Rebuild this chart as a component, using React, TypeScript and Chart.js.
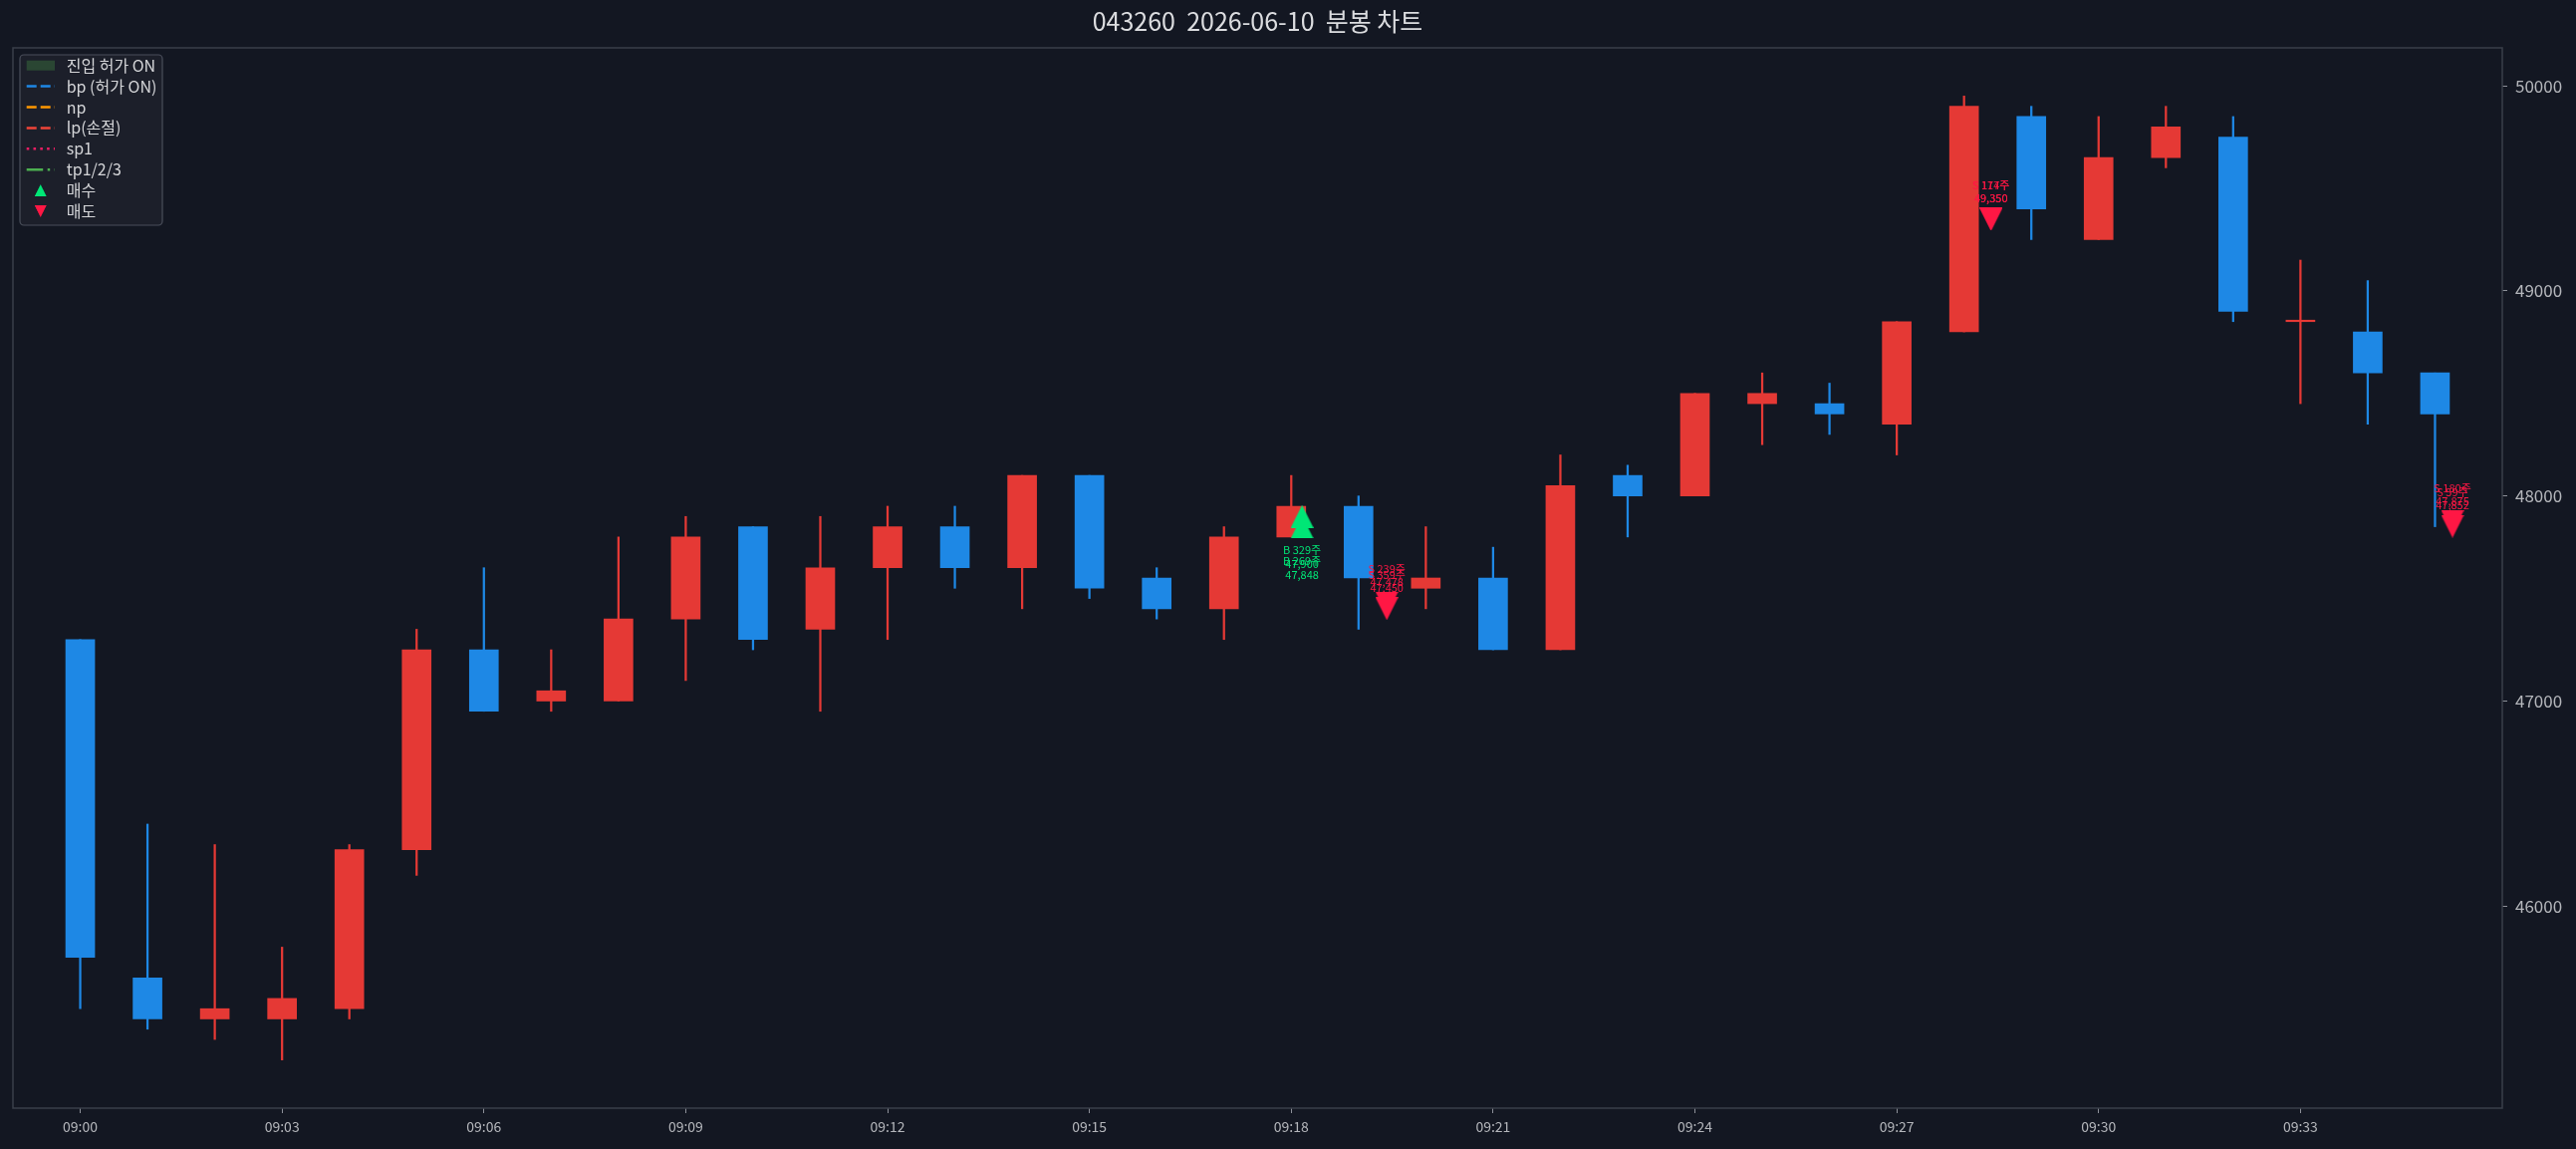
import React, { useEffect, useRef } from 'react';
import { Chart, registerables } from 'chart.js';

Chart.register(...registerables);

// ---------- data ----------
const TIMES = [
  '09:00', '09:01', '09:02', '09:03', '09:04', '09:05', '09:06', '09:07', '09:08', '09:09',
  '09:10', '09:11', '09:12', '09:13', '09:14', '09:15', '09:16', '09:17', '09:18', '09:19',
  '09:20', '09:21', '09:22', '09:23', '09:24', '09:25', '09:26', '09:27', '09:28', '09:29',
  '09:30', '09:31', '09:32', '09:33', '09:34', '09:35',
];
const OPEN = [
  47300, 45650, 45450, 45450, 45500, 46275, 47250, 47000, 47000, 47400,
  47850, 47350, 47650, 47850, 47650, 48100, 47600, 47450, 47800, 47950,
  47550, 47600, 47250, 48100, 48000, 48450, 48450, 48350, 48800, 49850,
  49250, 49650, 49750, 48850, 48800, 48600,
];
const HIGH = [
  47300, 46400, 46300, 45800, 46300, 47350, 47650, 47250, 47800, 47900,
  47850, 47900, 47950, 47950, 48100, 48100, 47650, 47850, 48100, 48000,
  47850, 47750, 48200, 48150, 48500, 48600, 48550, 48850, 49950, 49900,
  49850, 49900, 49850, 49150, 49050, 48600,
];
const LOW = [
  45500, 45400, 45350, 45250, 45450, 46150, 46950, 46950, 47000, 47100,
  47250, 46950, 47300, 47550, 47450, 47500, 47400, 47300, 47800, 47350,
  47450, 47250, 47250, 47800, 48000, 48250, 48300, 48200, 48800, 49250,
  49250, 49600, 48850, 48450, 48350, 47850,
];
const CLOSE = [
  45750, 45450, 45500, 45550, 46275, 47250, 46950, 47050, 47400, 47800,
  47300, 47650, 47850, 47650, 48100, 47550, 47450, 47800, 47950, 47600,
  47600, 47250, 48050, 48000, 48500, 48500, 48400, 48850, 49900, 49400,
  49650, 49800, 48900, 48850, 48600, 48400,
];
const X_TICK_LABELS = ['09:00', '09:03', '09:06', '09:09', '09:12', '09:15', '09:18', '09:21', '09:24', '09:27', '09:30', '09:33'];
const Y_TICKS = [46000, 47000, 48000, 49000, 50000];

const BUY_X = [18.16, 18.16];
const BUY_PRICE = [47900, 47848];
const BUY_QTY = [329, 269];

const SELL_X = [19.42, 19.42, 28.4, 28.4, 35.26, 35.26];
const SELL_PRICE = [47478, 47450, 49350, 49350, 47875, 47852];
const SELL_QTY = [239, 359, 174, 117, 180, 59];

const TITLE = '043260  2026-06-10  분봉 차트';
const LEGEND_LABELS = ['진입 허가 ON', 'bp (허가 ON)', 'np', 'lp(손절)', 'sp1', 'tp1/2/3', '매수', '매도'];

// ---------- styles ----------
const BG = '#131722';
const UP = '#e53935';
const DOWN = '#1e88e5';
const BUY_C = '#00e676';
const SELL_C = '#ff1744';
const SPINE = '#3a3f4a';
const TICK_C = '#b4b6bb';
const FONT = "'Noto Sans CJK KR', 'Noto Sans', sans-serif";

function makeTri(up: boolean, color: string, w: number, h: number) {
  const c = document.createElement('canvas');
  c.width = w;
  c.height = h;
  const g = c.getContext('2d')!;
  g.fillStyle = color;
  g.beginPath();
  if (up) {
    g.moveTo(w / 2, 0);
    g.lineTo(w, h);
    g.lineTo(0, h);
  } else {
    g.moveTo(0, 0);
    g.lineTo(w, 0);
    g.lineTo(w / 2, h);
  }
  g.closePath();
  g.fill();
  return c;
}

function fmt(n: number) {
  return n.toLocaleString('en-US');
}

export default function App() {
  const ref = useRef<HTMLCanvasElement | null>(null);

  useEffect(() => {
    document.body.style.margin = '0';
    document.body.style.background = BG;
    const canvas = ref.current!;
    const upTri = makeTri(true, BUY_C, 23, 23);
    const downTri = makeTri(false, SELL_C, 23, 23);

    const idx = TIMES.map((_, i) => i);
    const colors = idx.map((i) => (CLOSE[i] >= OPEN[i] ? UP : DOWN));
    const lo = Math.min(...LOW);
    const hi = Math.max(...HIGH);
    const pad = (hi - lo) * 0.05;
    const tickPos = X_TICK_LABELS.map((l) => TIMES.indexOf(l));

    const decor = {
      id: 'decor',
      beforeDraw(chart: any) {
        const ctx = chart.ctx;
        ctx.save();
        ctx.fillStyle = BG;
        ctx.fillRect(0, 0, chart.width, chart.height);
        ctx.restore();
      },
      afterDatasetsDraw(chart: any) {
        const ctx = chart.ctx;
        const a = chart.chartArea;
        const xs = chart.scales.x;
        const ys = chart.scales.y;
        ctx.save();
        ctx.strokeStyle = SPINE;
        ctx.lineWidth = 1.5;
        ctx.strokeRect(a.left, a.top, a.right - a.left, a.bottom - a.top);
        ctx.font = `11px ${FONT}`;
        ctx.textAlign = 'center';
        ctx.textBaseline = 'middle';
        ctx.fillStyle = BUY_C;
        BUY_X.forEach((x, i) => {
          const px = xs.getPixelForValue(x);
          const py = ys.getPixelForValue(BUY_PRICE[i]);
          ctx.fillText(`B ${BUY_QTY[i]}주`, px, py + 34);
          ctx.fillText(fmt(BUY_PRICE[i]), px, py + 48);
        });
        ctx.fillStyle = SELL_C;
        SELL_X.forEach((x, i) => {
          const px = xs.getPixelForValue(x);
          const py = ys.getPixelForValue(SELL_PRICE[i]);
          ctx.fillText(`S ${SELL_QTY[i]}주`, px, py - 34);
          ctx.fillText(fmt(SELL_PRICE[i]), px, py - 21);
        });
        ctx.restore();
      },
      afterDraw(chart: any) {
        const ctx = chart.ctx;
        const a = chart.chartArea;
        ctx.save();
        // title
        ctx.fillStyle = '#dcdde0';
        ctx.font = `25px ${FONT}`;
        ctx.textAlign = 'center';
        ctx.textBaseline = 'middle';
        ctx.fillText(TITLE, (a.left + a.right) / 2, 21);
        // legend
        const lx = 20, ly = 55, lw = 143, lh = 171;
        ctx.beginPath();
        (ctx as any).roundRect(lx, ly, lw, lh, 4);
        ctx.fillStyle = 'rgba(28,32,43,0.95)';
        ctx.fill();
        ctx.strokeStyle = '#4a4f5b';
        ctx.lineWidth = 1.2;
        ctx.stroke();
        const x0 = 26.7, x1 = 55;
        LEGEND_LABELS.forEach((label, i) => {
          const cy = 65.7 + i * 20.9;
          ctx.save();
          ctx.lineWidth = 2.5;
          ctx.lineCap = 'butt';
          const line = (color: string, dash: number[]) => {
            ctx.strokeStyle = color;
            ctx.setLineDash(dash);
            ctx.beginPath();
            ctx.moveTo(x0, cy);
            ctx.lineTo(x1, cy);
            ctx.stroke();
          };
          if (i === 0) {
            ctx.fillStyle = '#2a4633';
            ctx.fillRect(x0, cy - 5, x1 - x0, 10);
          } else if (i === 1) line(DOWN, [10, 4]);
          else if (i === 2) line('#ff9800', [10, 4]);
          else if (i === 3) line('#f04438', [10, 4]);
          else if (i === 4) line('#e91e63', [2.6, 4.2]);
          else if (i === 5) line('#4caf50', [16.5, 4.5, 2.5, 4.5]);
          else if (i === 6) ctx.drawImage(upTri, 40.7 - 6, cy - 6, 12, 12);
          else if (i === 7) ctx.drawImage(downTri, 40.7 - 6, cy - 6, 12, 12);
          ctx.restore();
          ctx.fillStyle = '#d4d5d8';
          ctx.font = `16px ${FONT}`;
          ctx.textAlign = 'left';
          ctx.textBaseline = 'middle';
          ctx.fillText(label, 66.7, cy);
        });
        ctx.restore();
      },
    };

    const chart = new Chart(canvas, {
      type: 'bar',
      data: {
        datasets: [
          {
            type: 'scatter',
            label: '매수',
            data: BUY_X.map((x, i) => ({ x, y: BUY_PRICE[i] })),
            pointStyle: upTri,
            pointRadius: 11,
            order: 0,
          } as any,
          {
            type: 'scatter',
            label: '매도',
            data: SELL_X.map((x, i) => ({ x, y: SELL_PRICE[i] })),
            pointStyle: downTri,
            pointRadius: 11,
            order: 0,
          } as any,
          {
            type: 'bar',
            label: 'body',
            data: idx.map((i) => ({ x: i, y: [OPEN[i], CLOSE[i]] })),
            backgroundColor: colors,
            borderWidth: 0,
            barThickness: 29,
            grouped: false,
            minBarLength: 1.5,
            order: 1,
          } as any,
          {
            type: 'bar',
            label: 'wick',
            data: idx.map((i) => ({ x: i, y: [LOW[i], HIGH[i]] })),
            backgroundColor: colors,
            borderWidth: 0,
            barThickness: 1.6,
            grouped: false,
            order: 2,
          } as any,
        ],
      },
      options: {
        responsive: false,
        animation: false,
        events: [],
        layout: { padding: { top: 48, left: 13, right: 0, bottom: 0 } },
        plugins: {
          legend: { display: false },
          tooltip: { enabled: false },
          title: { display: false },
        },
        scales: {
          x: {
            type: 'linear',
            min: -1,
            max: 36,
            offset: false,
            grid: { display: true, drawOnChartArea: false, drawTicks: true, tickLength: 5, tickColor: '#8d9099', offset: false },
            border: { display: false },
            ticks: {
              color: TICK_C,
              font: { family: FONT, size: 14 },
              padding: 5,
              maxRotation: 0,
              autoSkip: false,
              callback: (v: any) => TIMES[Math.round(v)] ?? '',
            },
            afterBuildTicks: (s: any) => {
              s.ticks = tickPos.map((v) => ({ value: v }));
            },
            afterFit: (s: any) => {
              s.height = 41;
            },
          },
          y: {
            type: 'linear',
            position: 'right',
            min: lo - pad,
            max: hi + pad,
            beginAtZero: false,
            grid: { display: true, drawOnChartArea: false, drawTicks: true, tickLength: 5, tickColor: '#8d9099' },
            border: { display: false },
            ticks: {
              color: TICK_C,
              font: { family: FONT, size: 17 },
              padding: 8,
              callback: (v: any) => String(v),
            },
            afterBuildTicks: (s: any) => {
              s.ticks = Y_TICKS.map((v) => ({ value: v }));
            },
            afterFit: (s: any) => {
              s.width = 74;
            },
          },
        },
      } as any,
      plugins: [decor],
    });
    return () => chart.destroy();
  }, []);

  return <canvas ref={ref} width={2586} height={1153} style={{ display: 'block', width: 2586, height: 1153 }} />;
}
